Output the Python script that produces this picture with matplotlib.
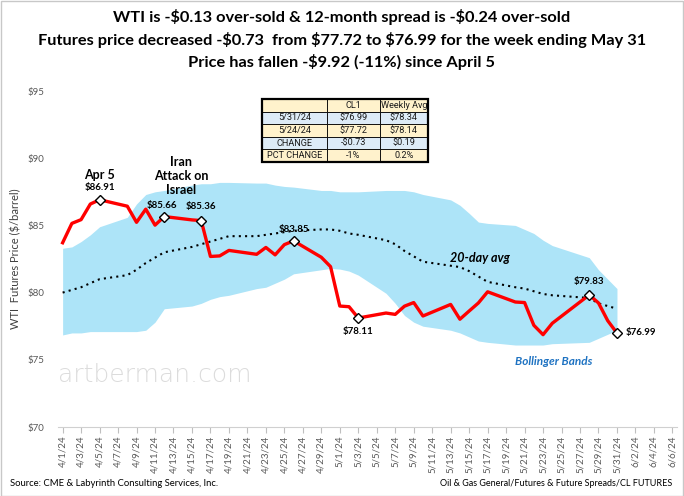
import matplotlib
matplotlib.use("Agg")
import matplotlib.pyplot as plt
import matplotlib.dates as mdates
import numpy as np
from matplotlib.patches import Rectangle

plt.rcParams['font.family'] = ['Lato', 'DejaVu Sans']
plt.rcParams['text.parse_math'] = False

# trading days, WTI front month settle
dates = np.array([
    "2024-04-01", "2024-04-02", "2024-04-03", "2024-04-04", "2024-04-05",
    "2024-04-08", "2024-04-09", "2024-04-10", "2024-04-11", "2024-04-12",
    "2024-04-15", "2024-04-16", "2024-04-17", "2024-04-18", "2024-04-19",
    "2024-04-22", "2024-04-23", "2024-04-24", "2024-04-25", "2024-04-26",
    "2024-04-29", "2024-04-30", "2024-05-01", "2024-05-02", "2024-05-03",
    "2024-05-06", "2024-05-07", "2024-05-08", "2024-05-09", "2024-05-10",
    "2024-05-13", "2024-05-14", "2024-05-15", "2024-05-16", "2024-05-17",
    "2024-05-20", "2024-05-21", "2024-05-22", "2024-05-23", "2024-05-24",
    "2024-05-28", "2024-05-29", "2024-05-30", "2024-05-31"], dtype="datetime64[D]")

price = [83.71, 85.15, 85.43, 86.59, 86.91,
         86.43, 85.23, 86.21, 85.02, 85.66,
         85.41, 85.36, 82.69, 82.73, 83.14,
         82.85, 83.36, 82.81, 83.57, 83.85,
         82.63, 81.93, 79.00, 78.95, 78.11,
         78.48, 78.38, 78.99, 79.26, 78.26,
         79.12, 78.02, 78.63, 79.23, 80.06,
         79.30, 79.26, 77.57, 76.87, 77.72,
         79.83, 79.23, 77.91, 76.99]

avg20 = [80.0, 80.2, 80.4, 80.7, 81.0,
         81.3, 81.7, 82.2, 82.6, 83.0,
         83.4, 83.6, 83.8, 84.0, 84.2,
         84.2, 84.3, 84.4, 84.5, 84.6,
         84.7, 84.7, 84.6, 84.4, 84.3,
         83.9, 83.6, 83.1, 82.7, 82.3,
         82.0, 81.9, 81.6, 81.2, 80.8,
         80.4, 80.3, 80.1, 79.9, 79.8,
         79.6, 79.2, 79.0, 78.8]

upper = [83.3, 83.4, 83.8, 84.3, 84.9,
         85.6, 86.6, 87.3, 87.5, 87.6,
         88.0, 88.1, 88.1, 88.2, 88.2,
         88.15, 88.15, 88.0, 87.9, 87.85,
         87.6, 87.6, 87.5, 87.5, 87.5,
         87.6, 87.6, 87.6, 87.5, 87.3,
         86.9, 86.5, 85.9, 85.25, 85.15,
         85.0, 84.7, 84.4, 83.9, 83.5,
         82.6, 81.7, 81.0, 80.3]

lower = [76.85, 77.0, 77.0, 77.1, 77.1,
         77.1, 77.1, 77.2, 77.8, 78.8,
         79.0, 79.2, 79.5, 79.7, 79.8,
         80.3, 80.4, 80.7, 81.0, 81.4,
         81.7, 81.8, 81.75, 81.6, 81.3,
         79.95, 79.2, 78.3, 77.8, 77.5,
         77.2, 77.0, 76.7, 76.4, 76.3,
         76.1, 76.1, 76.1, 76.1, 76.2,
         76.3, 76.6, 76.9, 77.2]

# labelled points
marked = ["2024-04-05", "2024-04-12", "2024-04-16", "2024-04-26",
          "2024-05-03", "2024-05-28", "2024-05-31"]

table_rows = [["", "CL1", "Weekly Avg"],
              ["5/31/24", "$76.99", "$78.34"],
              ["5/24/24", "$77.72", "$78.14"],
              ["CHANGE", "-$0.73", "$0.19"],
              ["PCT CHANGE", "-1%", "0.2%"]]

title_lines = ["WTI is -$0.13 over-sold & 12-month spread is -$0.24 over-sold",
               "Futures price decreased -$0.73  from $77.72 to $76.99 for the week ending May 31",
               "Price has fallen -$9.92 (-11%) since April 5"]

fig = plt.figure(figsize=(6.84, 4.96), dpi=100)
ax = fig.add_axes([0.0848, 0.1391, 0.905, 0.6774])

x = np.array(dates.astype("datetime64[ms]").astype(object))
ax.fill_between(x, lower, upper, color='#ADE4F8', lw=0, zorder=1)
ax.plot(x, avg20, color='black', ls=(0, (1, 2.0)), lw=1.5, zorder=2)
ax.plot(x, price, color='#FF0000', lw=2.4, zorder=3)

mk = np.isin(dates, np.array(marked, dtype="datetime64[D]"))
ax.plot(x[mk], np.array(price)[mk], ls='none', marker='D', ms=5,
        mfc='white', mec='black', mew=1.0, zorder=4)

def d(s):
    return mdates.date2num(np.datetime64(s).astype(object))

start = np.datetime64("2024-04-01")
end = np.datetime64("2024-06-06")
ax.set_xlim(d(start) - 0.5, d(end) + 0.5)
ax.set_ylim(70, 95)
ticks = np.arange(start, end + 1, 2)
ax.set_xticks([d(t) for t in ticks])
ax.set_xticklabels([f"{t.astype(object).month}/{t.astype(object).day}/24" for t in ticks],
                   rotation=90, fontsize=7, color='#595959')
yt = [70, 75, 80, 85, 90, 95]
ax.set_yticks(yt)
ax.set_yticklabels([f"${v}" for v in yt], fontsize=7, color='#595959')
ax.tick_params(axis='y', length=0, pad=10)
ax.tick_params(axis='x', length=4, color='#BFBFBF', pad=2)
for s in ['top', 'right', 'left']:
    ax.spines[s].set_visible(False)
ax.spines['bottom'].set_color('#D0D0D0')
ax.set_ylabel("WTI  Futures Price ($/barrel)", fontsize=8, color='#404040', labelpad=4)

ax.text(d("2024-04-05"), 88.75, "Apr 5", ha='center', va='center', fontsize=9, fontweight='bold')
ax.text(d("2024-04-05"), 87.8, "$86.91", ha='center', va='center', fontsize=7, fontweight='bold')
ax.text(d("2024-04-13") + 0.8, 88.7, "Iran\nAttack on\nIsrael", ha='center', va='center',
        fontsize=9, fontweight='bold', linespacing=1.2)
ax.text(d("2024-04-11") + 0.7, 86.5, "$85.66", ha='center', va='center', fontsize=7, fontweight='bold')
ax.text(d("2024-04-16"), 86.37, "$85.36", ha='center', va='center', fontsize=7, fontweight='bold')
ax.text(d("2024-04-26"), 84.66, "$83.85", ha='center', va='center', fontsize=7, fontweight='bold')
ax.text(d("2024-05-03"), 77.07, "$78.11", ha='center', va='center', fontsize=7, fontweight='bold')
ax.text(d("2024-05-28"), 80.8, "$79.83", ha='center', va='center', fontsize=7, fontweight='bold')
ax.text(d("2024-06-01") - 0.1, 77.0, "$76.99", ha='left', va='center', fontsize=7, fontweight='bold')
ax.text(d("2024-05-16") + 0.2, 82.6, "20-day avg", ha='center', va='center', fontsize=9,
        fontweight='bold', style='italic')
ax.text(d("2024-05-24") + 0.1, 74.9, "Bollinger Bands", ha='center', va='center', fontsize=8.5,
        fontweight='bold', style='italic', color='#1F73C2')
ax.text(d("2024-04-11"), 73.9, "artberman.com", ha='center', va='center', fontsize=18,
        color='#DCDCDC', zorder=0, family=['DejaVu Sans'], fontweight='light')

# data table
tbl = ax.table(cellText=table_rows, bbox=[0.3296, 0.789, 0.268, 0.187],
               colWidths=[0.39, 0.32, 0.29], cellLoc='center', zorder=5)
tbl.auto_set_font_size(False)
tbl.set_fontsize(6.6)
row_colors = ['#FFF2CC', '#DDEBF7', '#FFF2CC', '#DDEBF7', '#FFF2CC']
for (r, c), cell in tbl.get_celld().items():
    cell.set_facecolor(row_colors[r])
    cell.set_edgecolor('black')
    cell.set_linewidth(0.6)
    cell.get_text().set_color('#1a1a1a')
    cell.get_text().set_family(['Roboto', 'DejaVu Sans'])
ax.add_patch(Rectangle((0.3296, 0.789), 0.268, 0.187, transform=ax.transAxes, fill=False,
                       ec='black', lw=1.6, zorder=6))

for i, line in enumerate(title_lines):
    fig.text(0.5, 1 - (17 + 22.5 * i) / 496, line, ha='center', va='center',
             fontsize=11.8, fontweight='bold')

fig.text(10 / 684, 1 - 483 / 496, "Source: CME & Labyrinth Consulting Services, Inc.",
         ha='left', va='center', fontsize=6.8)
fig.text(672 / 684, 1 - 483 / 496, "Oil & Gas General/Futures & Future Spreads/CL FUTURES",
         ha='right', va='center', fontsize=6.5)

fig.patches.append(Rectangle((0.001, 0.001), 0.997, 0.997, transform=fig.transFigure,
                             fill=False, ec='#C8C8C8', lw=1.0))

fig.savefig("out.png", dpi=100)
